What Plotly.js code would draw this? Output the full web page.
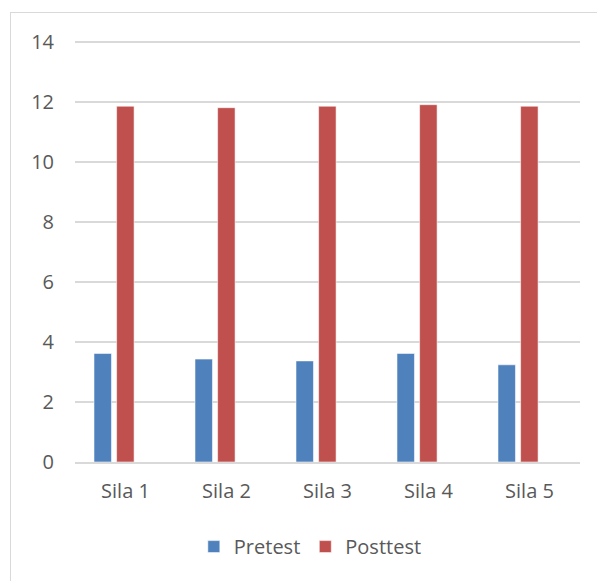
<!DOCTYPE html>
<html>
<head>
<meta charset="utf-8">
<script src="https://cdn.plot.ly/plotly-3.0.1.min.js"></script>
<style>
  html, body { margin: 0; padding: 0; background: #fff; overflow: hidden; }
  #frame { position: absolute; left: 10px; top: 12px; width: 620px; height: 620px;
           border: 1.5px solid #d9d9d9; box-sizing: border-box; }
  #chart { position: absolute; left: 0; top: 0; width: 597px; height: 581px; }
</style>
</head>
<body>
<div id="frame"></div>
<div id="chart"></div>
<script>
const categories = ["Sila 1", "Sila 2", "Sila 3", "Sila 4", "Sila 5"];
const pretest = [3.62, 3.43, 3.37, 3.62, 3.24];
const posttest = [11.86, 11.81, 11.86, 11.91, 11.86];
const yTicks = [0, 2, 4, 6, 8, 10, 12, 14];

const font = "Open Sans, sans-serif";
const textColor = "#595959";

const traces = [
  {
    type: "bar", name: "Pretest", x: categories, y: pretest,
    offset: -0.312, width: 0.173,
    marker: { color: "#4F81BD", line: { color: "rgba(255,255,255,0.55)", width: 1 } },
    hoverinfo: "skip"
  },
  {
    type: "bar", name: "Posttest", x: categories, y: posttest,
    offset: -0.088, width: 0.173,
    marker: { color: "#C0504D", line: { color: "rgba(255,255,255,0.55)", width: 1 } },
    hoverinfo: "skip"
  }
];

const layout = {
  width: 597, height: 581,
  margin: { l: 75, r: 17, t: 38.5, b: 118.5, pad: 0 },
  paper_bgcolor: "rgba(0,0,0,0)",
  plot_bgcolor: "rgba(0,0,0,0)",
  barmode: "overlay",
  showlegend: true,
  legend: {
    orientation: "h", x: 0.466, xanchor: "center", y: -0.2, yanchor: "middle",
    font: { family: font, size: 20, color: textColor },
    itemwidth: 30, traceorder: "normal"
  },
  xaxis: {
    type: "category", categoryorder: "array", categoryarray: categories,
    range: [-0.5, 4.5],
    showgrid: false, zeroline: false,
    showline: true, linecolor: "#d9d9d9", linewidth: 2,
    ticks: "", ticklabelstandoff: 10,
    tickfont: { family: font, size: 20, color: textColor }
  },
  yaxis: {
    range: [0, 14.1], tickmode: "array", tickvals: yTicks,
    ticktext: yTicks.map(String),
    showgrid: true, gridcolor: "#d9d9d9", gridwidth: 1.5,
    zeroline: false, showline: false,
    ticks: "", ticklabelstandoff: 20,
    tickfont: { family: font, size: 20, color: textColor }
  }
};

Plotly.newPlot("chart", traces, layout, { displayModeBar: false, staticPlot: true });
</script>
</body>
</html>
